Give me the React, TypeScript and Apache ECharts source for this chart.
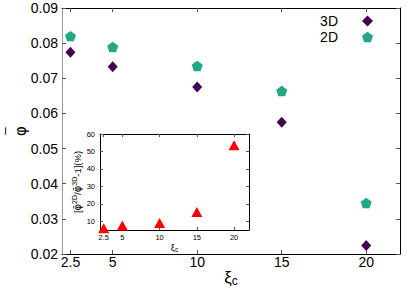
import React, { useEffect, useRef } from "react";
import * as echarts from "echarts";

const xiValues = [2.5, 5, 10, 15, 20];
const phi3D = [0.0774, 0.0733, 0.0675, 0.0575, 0.0224];
const phi2D = [0.082, 0.0789, 0.0735, 0.0664, 0.0345];
const ratioPct = [6.0, 7.6, 9.0, 15.3, 53.5];
const mainXTicks = [2.5, 5, 10, 15, 20];
const insetXTicks = [2.5, 5, 10, 15, 20];
const insetYTicks = [10, 20, 30, 40, 50, 60];

const FONT = "Liberation Sans, Arial, sans-serif";
const PENTAGON = "path://M50,0 L97.55,34.55 L79.39,90.45 L20.61,90.45 L2.45,34.55 Z";

export default function App() {
  const ref = useRef<HTMLDivElement>(null);
  useEffect(() => {
    if (!ref.current) return;
    const chart = echarts.init(ref.current, null, { renderer: "svg" });
    const pairs = (ys: number[]) => xiValues.map((x, i) => [x, ys[i]]);
    const tickStyle = { lineStyle: { color: "#555", width: 1 } };
    chart.setOption({
      animation: false,
      backgroundColor: "#fff",
      textStyle: { fontFamily: FONT },
      legend: {
        orient: "vertical",
        right: 37,
        top: 9,
        align: "right",
        itemWidth: 11,
        itemHeight: 11,
        itemGap: 2,
        data: ["3D", "2D"],
        textStyle: { fontSize: 14, color: "#000", fontFamily: FONT, lineHeight: 14, padding: [0, 19, 0, 0] },
      },
      grid: [
        { left: 62, top: 8, width: 338, height: 246, show: false, containLabel: false, outerBoundsMode: "none" },
        { left: 100, top: 134, width: 149, height: 96, show: true, backgroundColor: "#fff", borderWidth: 0, z: 5, containLabel: false, outerBoundsMode: "none" },
      ],
      xAxis: [
        {
          type: "value", gridIndex: 0, position: "bottom", min: 2, max: 22,
          name: "{a|ξ}{b|c}", nameLocation: "middle", nameGap: 13, nameMoveOverlap: false,
          nameTextStyle: {
            rich: {
              a: { fontSize: 17, fontFamily: FONT, color: "#000" },
              b: { fontSize: 12, fontFamily: FONT, color: "#000", verticalAlign: "bottom", padding: [8, 0, 0, 0] },
            },
          },
          axisLine: { show: true, lineStyle: { color: "#000", width: 1 } },
          axisTick: { show: true, inside: true, length: 4, customValues: mainXTicks, ...tickStyle },
          axisLabel: { customValues: mainXTicks, fontSize: 14, color: "#000", margin: 1, formatter: (v: number) => String(v) },
          splitLine: { show: false },
        },
        {
          type: "value", gridIndex: 0, position: "top", min: 2, max: 22,
          axisLine: { show: true, lineStyle: { color: "#000", width: 1 } },
          axisTick: { show: true, inside: true, length: 4, customValues: mainXTicks, ...tickStyle },
          axisLabel: { show: false },
          splitLine: { show: false },
        },
        {
          type: "value", gridIndex: 1, position: "bottom", min: 2, max: 22, z: 6,
          name: "{a|ξ}{b|c}", nameLocation: "middle", nameGap: 12, nameMoveOverlap: false,
          nameTextStyle: {
            rich: {
              a: { fontSize: 9, fontFamily: FONT, color: "#000" },
              b: { fontSize: 6.5, fontFamily: FONT, color: "#000", padding: [4, 0, 0, 0] },
            },
          },
          axisLine: { show: true, lineStyle: { color: "#000", width: 1 } },
          axisTick: { show: true, inside: true, length: 3, customValues: insetXTicks, ...tickStyle },
          axisLabel: { customValues: insetXTicks, fontSize: 7.5, color: "#000", margin: 3, formatter: (v: number) => String(v) },
          splitLine: { show: false },
        },
        {
          type: "value", gridIndex: 1, position: "top", min: 2, max: 22, z: 6,
          axisLine: { show: true, lineStyle: { color: "#000", width: 1 } },
          axisTick: { show: true, inside: true, length: 3, customValues: insetXTicks, ...tickStyle },
          axisLabel: { show: false },
          splitLine: { show: false },
        },
      ],
      yAxis: [
        {
          type: "value", gridIndex: 0, position: "left", min: 0.02, max: 0.09, interval: 0.01,
          name: "{o|‾}\n{p|φ}", nameLocation: "middle", nameGap: 34, nameRotate: 90, nameMoveOverlap: false,
          nameTextStyle: {
            rich: {
              o: { fontSize: 14, fontFamily: "DejaVu Sans", color: "#000", lineHeight: 7 },
              p: { fontSize: 15, fontFamily: "DejaVu Sans", color: "#000", lineHeight: 14 },
            },
          },
          axisLine: { show: true, lineStyle: { color: "#999", width: 1 } },
          axisTick: { show: true, inside: true, length: 4, ...tickStyle },
          axisLabel: { fontSize: 14, color: "#000", margin: 4, formatter: (v: number) => v.toFixed(2) },
          splitLine: { show: false },
        },
        {
          type: "value", gridIndex: 0, position: "right", min: 0.02, max: 0.09, interval: 0.01,
          axisLine: { show: true, lineStyle: { color: "#000", width: 1 } },
          axisTick: { show: true, inside: true, length: 4, ...tickStyle },
          axisLabel: { show: false },
          splitLine: { show: false },
        },
        {
          type: "value", gridIndex: 1, position: "left", min: 5, max: 60, z: 6,
          name: "[{o|φ\u0304}{s|2D}{n|/}{o|φ\u0304}{s|3D}{n|-1](%)}",
          nameLocation: "middle", nameGap: 16, nameRotate: 90, nameMoveOverlap: false,
          nameTextStyle: {
            fontSize: 9.5, color: "#000",
            rich: {
              o: { fontSize: 10, fontFamily: "DejaVu Sans", color: "#000" },
              s: { fontSize: 7, fontFamily: FONT, color: "#000", padding: [0, 0, 6, 0] },
              n: { fontSize: 9.5, fontFamily: FONT, color: "#000" },
            },
          },
          axisLine: { show: true, lineStyle: { color: "#000", width: 1 } },
          axisTick: { show: true, inside: true, length: 3, customValues: insetYTicks, ...tickStyle },
          axisLabel: { customValues: insetYTicks, fontSize: 7.5, color: "#000", margin: 5 },
          splitLine: { show: false },
        },
        {
          type: "value", gridIndex: 1, position: "right", min: 5, max: 60, z: 6,
          axisLine: { show: true, lineStyle: { color: "#000", width: 1 } },
          axisTick: { show: true, inside: true, length: 3, customValues: insetYTicks, ...tickStyle },
          axisLabel: { show: false },
          splitLine: { show: false },
        },
      ],
      series: [
        {
          name: "3D", type: "scatter", xAxisIndex: 0, yAxisIndex: 0,
          symbol: "diamond", symbolSize: [10, 11],
          itemStyle: { color: "#440154", opacity: 1 },
          data: pairs(phi3D),
        },
        {
          name: "2D", type: "scatter", xAxisIndex: 0, yAxisIndex: 0,
          symbol: PENTAGON, symbolSize: 11, symbolKeepAspect: true,
          itemStyle: { color: "#22a884", opacity: 1 },
          data: pairs(phi2D),
        },
        {
          name: "ratio", type: "scatter", xAxisIndex: 2, yAxisIndex: 2, z: 7,
          symbol: "triangle", symbolSize: [11, 10],
          clip: true,
          itemStyle: { color: "#ff0000", opacity: 1 },
          data: pairs(ratioPct),
        },
      ],
    });
    return () => chart.dispose();
  }, []);
  return <div ref={ref} style={{ width: 415, height: 291, position: "absolute", left: 0, top: 0 }} />;
}
